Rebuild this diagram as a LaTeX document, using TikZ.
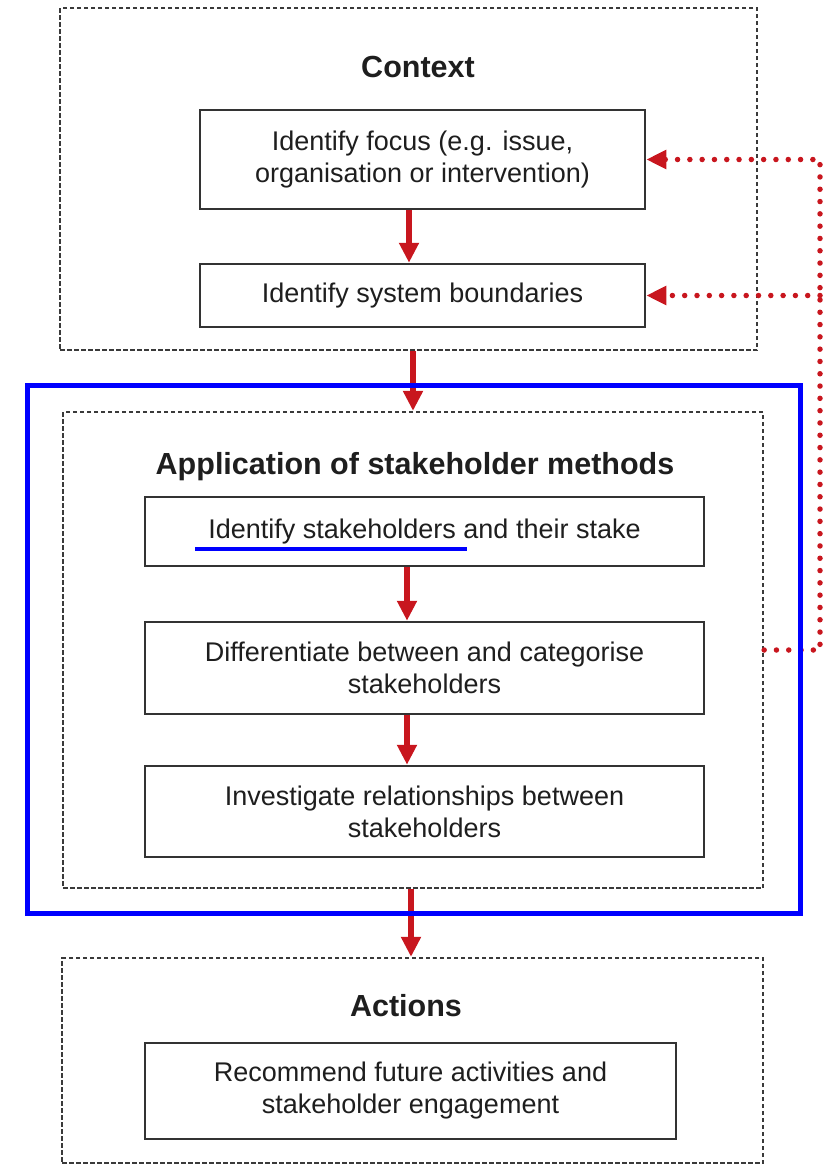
\documentclass[tikz,border=0pt]{standalone}
\usepackage{fontspec}
\setmainfont{Liberation Sans}
\usetikzlibrary{arrows.meta}
\definecolor{flowred}{HTML}{C8161E}
\definecolor{boxline}{HTML}{333333}
\definecolor{frameline}{HTML}{3A3A3A}
\definecolor{txt}{HTML}{1E1E1E}
\definecolor{markblue}{HTML}{0000FF}
\begin{document}
\begin{tikzpicture}[x=1pt,y=-1pt,
  stepbox/.style={draw=boxline, line width=2.5pt, fill=white, inner sep=0pt,
    align=center, text=txt, font=\fontsize{27}{32}\selectfont},
  groupbox/.style={draw=frameline, line width=2.3pt, dash pattern=on 4.5pt off 2.5pt,
    inner sep=0pt},
  grouptitle/.style={anchor=base, text=txt, inner sep=0pt,
    font=\fontsize{30.5}{36}\selectfont\bfseries},
  flow/.style={draw=flowred, line width=6.5pt, -{Triangle[length=20pt,width=19pt]}},
  feedback/.style={draw=flowred, line width=5.5pt, line cap=round,
    dash pattern=on 0pt off 12.3pt, -{Triangle[length=20pt,width=18pt]}},
  ]
\useasboundingbox (0,0) rectangle (831,1165);

% group frames
\node[groupbox, minimum width=697pt, minimum height=342pt] (ctx) at (408.5,179) {};
\node[groupbox, minimum width=700pt, minimum height=476pt] (app) at (413,650) {};
\node[groupbox, minimum width=701pt, minimum height=205pt] (act) at (412.5,1060.5) {};

% group titles
\node[grouptitle] (tctx) at (418,77) {Context};
\node[grouptitle] (tapp) at (415,474) {Application of stakeholder methods};
\node[grouptitle] (tact) at (406,1016) {Actions};

% steps
\node[stepbox, minimum width=445pt, minimum height=99pt] (b1) at (422.5,159.5)
  {Identify focus (e.g. issue,\\organisation or intervention)};
\node[stepbox, minimum width=445pt, minimum height=63pt] (b2) at (422.5,295.5)
  {Identify system boundaries};
\node[stepbox, minimum width=559pt, minimum height=69pt] (b3) at (424.5,531.5)
  {Identify stakeholders and their stake};
\node[stepbox, minimum width=559pt, minimum height=92pt] (b4) at (424.5,668)
  {Differentiate between and categorise\\stakeholders};
\node[stepbox, minimum width=559pt, minimum height=91pt] (b5) at (424.5,811.5)
  {Investigate relationships between\\stakeholders};
\node[stepbox, minimum width=531pt, minimum height=96pt] (b6) at (410.5,1091)
  {Recommend future activities and\\stakeholder engagement};

% flow arrows
\coordinate (xa) at (409,0);
\coordinate (xb) at (413,0);
\coordinate (xc) at (407,0);
\coordinate (xd) at (411,0);
\draw[flow] (b1.south -| xa) -- (b2.north -| xa);
\draw[flow] (ctx.south -| xb) -- (app.north -| xb);
\draw[flow] (b3.south -| xc) -- (b4.north -| xc);
\draw[flow] (b4.south -| xc) -- (b5.north -| xc);
\draw[flow] (app.south -| xd) -- (act.north -| xd);

% feedback loop
\coordinate (xf) at (820,0);
\draw[feedback] (app.east) -- (app.east -| xf) |- (b1.east);
\draw[feedback] (b2.east -| xf) -- (b2.east);

% highlight
\node[draw=markblue, line width=5pt, inner sep=0pt, minimum width=773pt,
  minimum height=528pt] (hl) at (413.5,649) {};
\coordinate (ul1) at (195,549);
\coordinate (ul2) at (467,549);
\draw[markblue, line width=3.5pt] (ul1) -- (ul2);
\end{tikzpicture}
\end{document}
